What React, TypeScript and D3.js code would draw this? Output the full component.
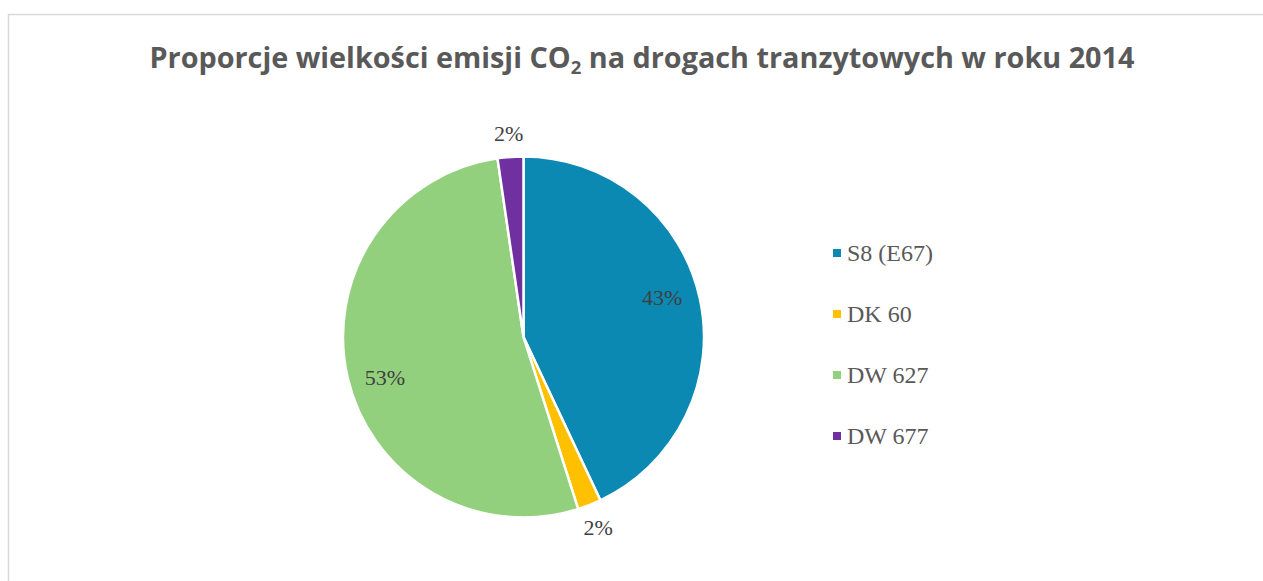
import React, { useEffect, useRef } from "react";
import * as d3 from "d3";

const categories = ["S8 (E67)", "DK 60", "DW 627", "DW 677"];
const shares = [43.0, 2.1, 52.6, 2.3];
const colors = ["#0b89b3", "#ffc000", "#93d07e", "#7030a0"];
const titleMain = "Proporcje wielkości emisji CO";
const titleSub = "2";
const titleRest = " na drogach tranzytowych w roku 2014";

export default function App() {
  const ref = useRef<SVGSVGElement>(null);

  useEffect(() => {
    const svg = d3.select(ref.current);
    svg.selectAll("*").remove();

    const W = 1263;
    const H = 581;
    const cx = 523.5;
    const cy = 337;
    const r = 180.5;

    // chart frame
    svg
      .append("rect")
      .attr("x", 8.5)
      .attr("y", 14.5)
      .attr("width", W + 20)
      .attr("height", H + 20)
      .attr("fill", "#fff")
      .attr("stroke", "#d9d9d9")
      .attr("stroke-width", 1.5);

    const title = svg
      .append("text")
      .attr("x", 642)
      .attr("y", 68)
      .attr("text-anchor", "middle")
      .attr("font-family", "'Open Sans', sans-serif")
      .attr("font-weight", "bold")
      .attr("font-size", 28)
      .attr("fill", "#595959");
    title.append("tspan").text(titleMain);
    title
      .append("tspan")
      .attr("font-size", 18)
      .attr("dy", 6)
      .text(titleSub);
    title.append("tspan").attr("dy", -6).text(titleRest);
    title.attr("textLength", 985).attr("lengthAdjust", "spacingAndGlyphs");

    const pie = d3
      .pie<number>()
      .sort(null)
      .value((d) => d);
    const arcs = pie(shares);
    const arc = d3.arc<d3.PieArcDatum<number>>().innerRadius(0).outerRadius(r);

    const g = svg.append("g").attr("transform", `translate(${cx},${cy})`);
    g.selectAll("path")
      .data(arcs)
      .enter()
      .append("path")
      .attr("d", arc)
      .attr("fill", (d, i) => colors[i])
      .attr("stroke", "#fff")
      .attr("stroke-width", 2.5)
      .attr("stroke-linejoin", "round");

    g.selectAll(".lbl")
      .data(arcs)
      .enter()
      .append("text")
      .attr("class", "lbl")
      .attr("transform", (d) => {
        // best-fit: big slices inside, small ones just outside the rim
        const mid = (d.startAngle + d.endAngle) / 2;
        const small = d.value < 5;
        const a = small ? mid : mid - 0.06;
        const rr = small ? r + 24 : r * 0.8;
        return `translate(${Math.sin(a) * rr},${-Math.cos(a) * rr})`;
      })
      .attr("text-anchor", "middle")
      .attr("dominant-baseline", "central")
      .attr("font-family", "'Liberation Serif', 'Times New Roman', serif")
      .attr("font-size", 22)
      .attr("fill", "#404040")
      .text((d) => `${Math.round(d.value)}%`);

    const legend = svg
      .append("g")
      .selectAll("g")
      .data(categories)
      .enter()
      .append("g")
      .attr("transform", (d, i) => `translate(833,${253 + i * 61})`);
    legend
      .append("rect")
      .attr("x", 0)
      .attr("y", -4)
      .attr("width", 8)
      .attr("height", 8)
      .attr("fill", (d, i) => colors[i]);
    legend
      .append("text")
      .attr("x", 14)
      .attr("y", 0)
      .attr("dominant-baseline", "central")
      .attr("font-family", "'Liberation Serif', 'Times New Roman', serif")
      .attr("font-size", 24)
      .attr("fill", "#595959")
      .text((d) => d);
  }, []);

  return (
    <svg
      ref={ref}
      width={1263}
      height={581}
      style={{ position: "absolute", left: 0, top: 0 }}
    />
  );
}
